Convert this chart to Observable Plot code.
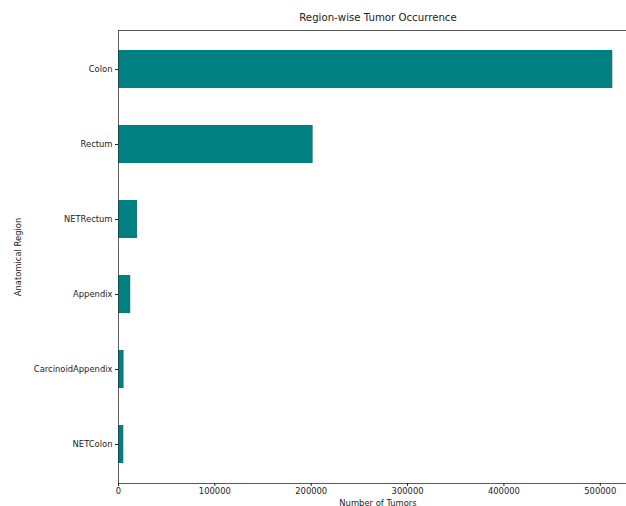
<!DOCTYPE html>
<html>
<head>
<meta charset="utf-8">
<script src="https://cdn.jsdelivr.net/npm/d3@7"></script>
<script src="https://cdn.jsdelivr.net/npm/@observablehq/plot@0.6"></script>
<style>
  html, body { margin: 0; padding: 0; background: white; overflow: hidden; }
  #wrap { width: 626px; height: 506px; overflow: hidden; }
</style>
</head>
<body>
<div id="wrap"></div>
<script>
const regions = ["Colon", "Rectum", "NETRectum", "Appendix", "CarcinoidAppendix", "NETColon"];
const tumorCounts = [513000, 202000, 19700, 12700, 5800, 5500];
const xTicks = [0, 100000, 200000, 300000, 400000, 500000];
const titleText = "Region-wise Tumor Occurrence";
const xLabel = "Number of Tumors";
const yLabel = "Anatomical Region";

const data = regions.map((r, i) => ({region: r, count: tumorCounts[i]}));
const xMax = d3.max(tumorCounts) * 1.05;

const chart = Plot.plot({
  width: 640,
  height: 506,
  marginLeft: 118,
  marginRight: 3,
  marginTop: 30,
  marginBottom: 23,
  style: {fontFamily: "DejaVu Sans, sans-serif", fontSize: "8.4px", color: "#222", maxWidth: "none", overflow: "visible", background: "white"},
  x: {domain: [0, xMax], label: null},
  y: {domain: regions, paddingInner: 0.5, paddingOuter: 0.25, label: null},
  marks: [
    Plot.barX(data, {x: "count", y: "region", fill: "#008080"}),
    Plot.frame({stroke: "#333", strokeWidth: 0.8}),
    Plot.axisX({ticks: xTicks, tickFormat: d => String(d), tickSize: 3, tickPadding: 2, label: null}),
    Plot.axisY({tickSize: 3, tickPadding: 3, label: null}),
    Plot.text([titleText], {text: d => d, frameAnchor: "top", dy: -10, fontSize: 10.2, lineAnchor: "bottom", fill: "#222"}),
    Plot.text([xLabel], {text: d => d, frameAnchor: "bottom", dy: 22, fontSize: 8.4, fill: "#222"}),
    Plot.text([yLabel], {text: d => d, frameAnchor: "left", textAnchor: "middle", dx: -100, rotate: -90, fontSize: 8.4, fill: "#222"})
  ]
});
document.getElementById("wrap").appendChild(chart);
</script>
</body>
</html>
